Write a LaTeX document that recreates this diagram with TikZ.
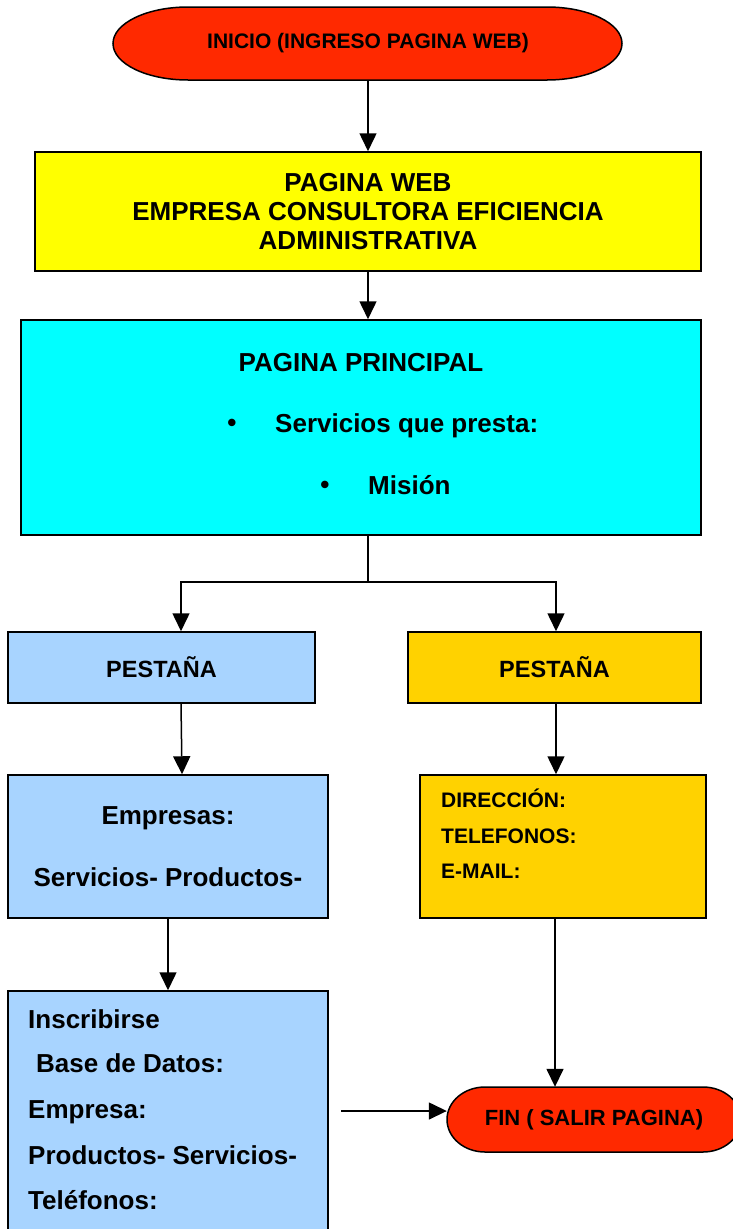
\documentclass[tikz,border=0pt]{standalone}
\usepackage{fontspec}
\setmainfont{Liberation Sans}
\usetikzlibrary{arrows.meta}
\definecolor{rojo}{RGB}{255,41,0}
\definecolor{amarillo}{RGB}{255,255,0}
\definecolor{cian}{RGB}{0,255,255}
\definecolor{celeste}{RGB}{168,212,255}
\definecolor{oro}{RGB}{255,210,0}
\begin{document}
\begin{tikzpicture}[x=1pt,y=1pt,
caja/.style={draw, line width=1.5pt, inner sep=0pt, align=center,
  font=\bfseries\fontsize{26}{29}\selectfont},
texto/.style={inner sep=0pt, font=\bfseries\fontsize{26}{29}\selectfont},
textochico/.style={inner sep=0pt, font=\bfseries\fontsize{21}{25}\selectfont},
linea/.style={line width=1.5pt},
flecha/.style={line width=1.5pt, -{Triangle[length=18pt,width=17pt]}}]

\useasboundingbox (0,0) rectangle (732,-1229);

\draw[linea, fill=rojo] (188,-7) -- (547,-7)
  arc[start angle=90, end angle=-90, x radius=75, y radius=36.5]
  -- (188,-80)
  arc[start angle=270, end angle=90, x radius=75, y radius=36.5] -- cycle;
\node[textochico, minimum width=509, minimum height=73] (inicio) at (368,-43.5)
{INICIO (INGRESO PAGINA WEB)};

\node[caja, fill=amarillo, minimum width=666, minimum height=119] (web) at (368,-211.5)
{PAGINA WEB\\EMPRESA CONSULTORA EFICIENCIA\\ADMINISTRATIVA};

\node[caja, fill=cian, minimum width=680, minimum height=215] (principal) at (361,-427.5) {};
\node[texto, anchor=base] (titulo) at (361,-371) {PAGINA PRINCIPAL};
\node[texto, anchor=base] (punto1) at (232,-431) {•};
\node[texto, anchor=base west] (servicios) at (275,-432) {Servicios que presta:};
\node[texto, anchor=base] (punto2) at (325,-493) {•};
\node[texto, anchor=base west] (mision) at (368,-494) {Misión};

\node[caja, fill=celeste, minimum width=307, minimum height=71,
  font=\bfseries\fontsize{23.5}{28}\selectfont] (pest1) at (161.5,-667.5) {PESTAÑA};
\node[caja, fill=oro, minimum width=293, minimum height=71,
  font=\bfseries\fontsize{23.5}{28}\selectfont] (pest2) at (554.5,-667.5) {PESTAÑA};

\node[caja, fill=celeste, minimum width=320, minimum height=143,
  font=\bfseries\fontsize{26}{62}\selectfont] (empresas) at (168,-846.5)
{Empresas:\\Servicios- Productos-};

\node[caja, fill=oro, minimum width=286, minimum height=143] (contacto) at (563,-846.5) {};
\foreach \txt/\yy [count=\i] in {DIRECCIÓN:/807.5, TELEFONOS:/843.5, E-MAIL:/878.5}
  \node[textochico, anchor=base west] (contacto\i) at (441,-\yy) {\txt};

\node[caja, fill=celeste, minimum width=320, minimum height=249] (datos) at (168,-1115.5) {};
\foreach \txt/\xx/\yy [count=\i] in {Inscribirse/28/1028, Base de Datos:/36/1072.5,
  Empresa:/28/1118, Productos- Servicios-/28/1164, Teléfonos:/28/1209}
  \node[texto, anchor=base west] (datos\i) at (\xx,-\yy) {\txt};

\draw[linea, fill=rojo] (485,-1087) -- (703,-1087)
  arc[start angle=90, end angle=-90, x radius=38, y radius=32.5]
  -- (485,-1152)
  arc[start angle=270, end angle=90, x radius=38, y radius=32.5] -- cycle;
\node[inner sep=0pt, minimum width=294, minimum height=65,
  font=\bfseries\fontsize{22}{26}\selectfont] (fin) at (594,-1119.5) {FIN ( SALIR PAGINA)};

\coordinate (bifurca) at (368,-582);
\coordinate (libre) at (341,-1111);

\draw[flecha] (inicio.south) -- (web.north);
\draw[flecha] (web.south) -- (web.south |- principal.north);
\draw[linea] (web.south |- principal.south) -- (bifurca);
\draw[flecha] (bifurca) -| ([xshift=19.5pt]pest1.north);
\draw[flecha] (bifurca) -| ([xshift=1.5pt]pest2.north);
\draw[flecha] ([xshift=19.5pt]pest1.south) -- ([xshift=14pt]empresas.north);
\draw[flecha] (empresas.south) -- (datos.north);
\draw[flecha] ([xshift=1.5pt]pest2.south) -- ([xshift=1.5pt]pest2.south |- contacto.north);
\draw[flecha] ([xshift=-8pt]contacto.south) -- ([xshift=-8pt]contacto.south |- fin.north);
\draw[flecha] (libre) -- (libre -| fin.west);

\end{tikzpicture}
\end{document}
